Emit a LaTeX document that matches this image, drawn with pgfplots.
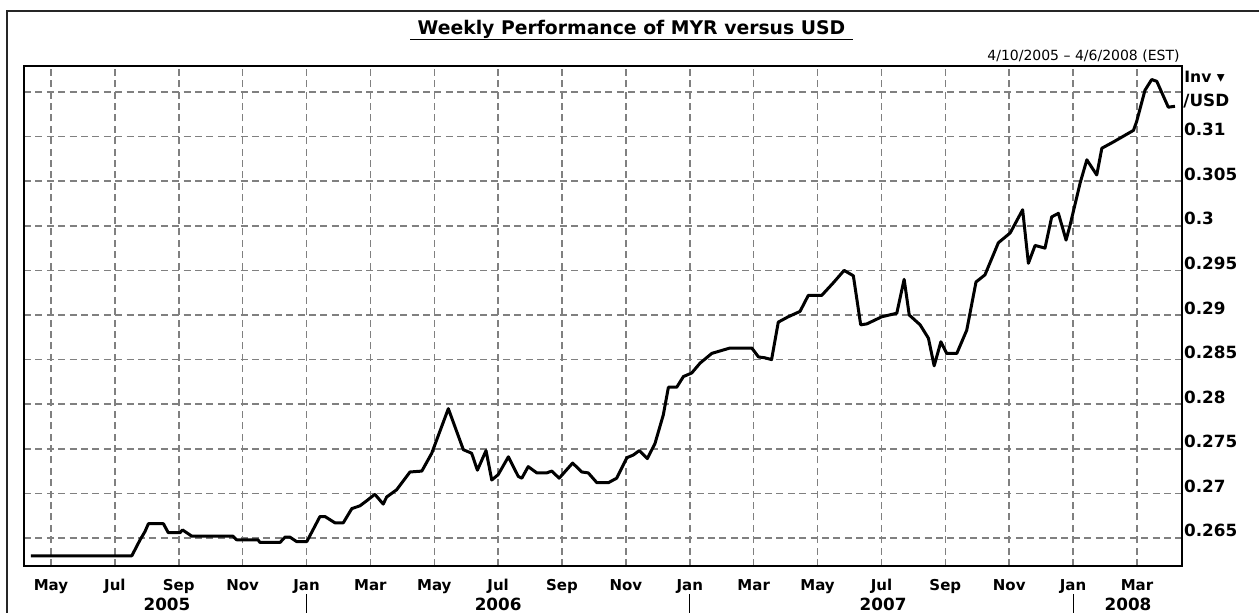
\documentclass[border=0pt]{standalone}
\usepackage{fontspec}
\setmainfont{DejaVu Sans}
\usepackage{pgfplots}
\pgfplotsset{compat=1.18}
\pgfplotstableread{
m v
3.37 0.2630
6.53 0.2630
6.79 0.2648
6.94 0.2657
7.05 0.2666
7.52 0.2666
7.67 0.2656
8.04 0.2656
8.12 0.2659
8.41 0.2652
9.70 0.2652
9.81 0.2648
10.48 0.2648
10.54 0.2645
11.17 0.2645
11.33 0.2651
11.48 0.2651
11.69 0.2646
12.01 0.2646
12.42 0.2674
12.58 0.2674
12.89 0.2667
13.15 0.2667
13.42 0.2683
13.67 0.2686
13.93 0.2693
14.14 0.2699
14.40 0.2688
14.51 0.2696
14.82 0.2704
15.24 0.2724
15.61 0.2725
15.92 0.2745
16.44 0.2795
16.91 0.2749
17.17 0.2745
17.35 0.2726
17.62 0.2748
17.80 0.2715
18.00 0.2721
18.32 0.2741
18.63 0.2719
18.74 0.2717
18.94 0.2730
19.21 0.2723
19.52 0.2723
19.68 0.2725
19.91 0.2717
20.33 0.2734
20.62 0.2724
20.82 0.2723
21.09 0.2712
21.45 0.2712
21.71 0.2717
22.03 0.2740
22.23 0.2743
22.42 0.2748
22.67 0.2739
22.91 0.2756
23.17 0.2788
23.33 0.2819
23.59 0.2819
23.80 0.2831
24.06 0.2835
24.32 0.2846
24.69 0.2857
25.26 0.2863
25.94 0.2863
26.15 0.2853
26.35 0.2852
26.56 0.2850
26.77 0.2892
27.08 0.2898
27.45 0.2904
27.71 0.2922
28.13 0.2922
28.49 0.2936
28.83 0.2950
29.12 0.2944
29.35 0.2889
29.54 0.2890
30.01 0.2898
30.48 0.2902
30.71 0.2940
30.87 0.2900
31.21 0.2889
31.47 0.2874
31.65 0.2843
31.86 0.2870
32.04 0.2857
32.36 0.2857
32.67 0.2883
32.96 0.2937
33.24 0.2945
33.66 0.2981
34.03 0.2992
34.42 0.3018
34.60 0.2958
34.81 0.2978
35.12 0.2975
35.33 0.3010
35.54 0.3014
35.78 0.2984
35.90 0.3000
36.22 0.3048
36.43 0.3074
36.74 0.3057
36.90 0.3087
37.26 0.3094
37.89 0.3107
37.99 0.3117
38.25 0.3152
38.46 0.3164
38.62 0.3162
38.98 0.3133
39.19 0.3134
}\myrdata
\begin{document}
\begin{tikzpicture}[x=0.5pt,y=0.5pt]
\useasboundingbox (0,0) rectangle (1259,613);
\fill[white] (0,0) rectangle (1259,613);
\draw[line width=1.2pt, black!85] (7,-20) -- (7,602) -- (1280,602);
% title
\node[anchor=base, inner sep=0pt, font=\fontsize{9.4}{10}\selectfont\bfseries] at (631.5,578) {Weekly Performance of MYR versus USD};
\draw[line width=0.7pt] (410,573.5) -- (853,573.5);
\node[anchor=base east, inner sep=0pt, font=\fontsize{7}{8}\selectfont] at (1180,552) {4/10/2005 – 4/6/2008 (EST)};
\node[anchor=base west, inner sep=0pt, font=\fontsize{7.8}{8}\selectfont\bfseries] at (1184,530) {Inv ▾};
\node[anchor=base west, inner sep=0pt, font=\fontsize{8.4}{9}\selectfont\bfseries] at (1183,506) {/USD};
\begin{axis}[
  at={(12pt,23.5pt)}, anchor=south west,
  scale only axis, width=578.85pt, height=250pt,
  xmin=3.155, xmax=39.40, ymin=0.26186, ymax=0.31792,
  axis line style={line width=1pt},
  grid=major,
  major grid style={black!50, line width=0.75pt, dash pattern=on 3.5pt off 2.2pt},
  xtick={4,6,...,38},
  xticklabels={May,Jul,Sep,Nov,Jan,Mar,May,Jul,Sep,Nov,Jan,Mar,May,Jul,Sep,Nov,Jan,Mar},
  ytick={0.265,0.27,0.275,0.28,0.285,0.29,0.295,0.3,0.305,0.31,0.315},
  yticklabels={0.265,0.27,0.275,0.28,0.285,0.29,0.295,0.3,0.305,0.31,{}},
  yticklabel pos=right,
  tick style={draw=none},
  xticklabel style={font=\fontsize{7.5}{8}\selectfont\bfseries, anchor=base, yshift=-12.5pt},
  yticklabel style={font=\fontsize{8.4}{9}\selectfont\bfseries, anchor=base west, inner sep=1pt, yshift=0.5pt},
  clip=false,
]
\addplot[black, line width=1.5pt, line join=round] table[x=m,y=v] {\myrdata};
\node[anchor=base, inner sep=0pt, yshift=-22.5pt, font=\fontsize{8.4}{9}\selectfont\bfseries] at (axis cs:7.63,0.26186) {2005};
\node[anchor=base, inner sep=0pt, yshift=-22.5pt, font=\fontsize{8.4}{9}\selectfont\bfseries] at (axis cs:18.0,0.26186) {2006};
\node[anchor=base, inner sep=0pt, yshift=-22.5pt, font=\fontsize{8.4}{9}\selectfont\bfseries] at (axis cs:30.05,0.26186) {2007};
\node[anchor=base, inner sep=0pt, yshift=-22.5pt, font=\fontsize{8.4}{9}\selectfont\bfseries] at (axis cs:37.72,0.26186) {2008};
\draw[line width=0.6pt] (axis cs:12,0.26186) ++(0pt,-14pt) -- ++(0pt,-12pt);
\draw[line width=0.6pt] (axis cs:24,0.26186) ++(0pt,-14pt) -- ++(0pt,-12pt);
\draw[line width=0.6pt] (axis cs:36,0.26186) ++(0pt,-14pt) -- ++(0pt,-12pt);
\end{axis}
\end{tikzpicture}
\end{document}
